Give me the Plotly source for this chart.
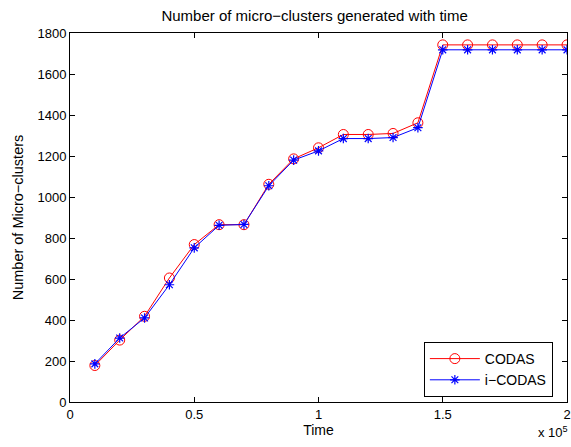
import plotly.graph_objects as go

time = [1e4, 2e4, 3e4, 4e4, 5e4, 6e4, 7e4, 8e4, 9e4, 1e5, 1.1e5, 1.2e5, 1.3e5, 1.4e5,
        1.5e5, 1.6e5, 1.7e5, 1.8e5, 1.9e5, 2e5]
codas = [178, 302, 418, 605, 768, 865, 865, 1062, 1186, 1240, 1305, 1305, 1310, 1362,
         1742, 1742, 1742, 1742, 1742, 1742]
icodas = [186, 312, 410, 572, 752, 862, 866, 1055, 1180, 1225, 1285, 1285, 1290, 1338,
          1718, 1718, 1718, 1718, 1718, 1718]

x_ticks = [0, 0.5, 1, 1.5, 2]
x_tick_labels = ["0", "0.5", "1", "1.5", "2"]
y_ticks = [0, 200, 400, 600, 800, 1000, 1200, 1400, 1600, 1800]

xs = [t / 1e5 for t in time]

fig = go.Figure()
fig.add_trace(go.Scatter(
    x=xs, y=codas, name="CODAS", mode="lines+markers",
    line=dict(color="#ff0000", width=1),
    marker=dict(symbol="circle-open", size=10, color="#ff0000", line=dict(width=1)),
))
fig.add_trace(go.Scatter(
    x=xs, y=icodas, name="i\u2212CODAS", mode="lines+markers",
    line=dict(color="#0000ff", width=1),
    marker=dict(symbol="asterisk-open", size=8, color="#0000ff", line=dict(width=1.2, color="#0000ff")),
))

axis_common = dict(
    showgrid=False, zeroline=False, showline=True, linecolor="black", linewidth=1,
    mirror="ticks", ticks="inside", ticklen=5, tickcolor="black", automargin=False,
    tickfont=dict(size=13, color="black"),
)

fig.update_layout(
    width=571, height=447,
    margin=dict(l=70, r=4, t=33, b=45),
    paper_bgcolor="white", plot_bgcolor="white",
    font=dict(family="Liberation Sans, Arial, sans-serif", color="black", size=13),
    title=dict(text="Number of micro\u2212clusters generated with time", x=0.551, xanchor="center",
               y=0.964, yanchor="middle", font=dict(size=15)),
    xaxis=dict(range=[0, 2], tickvals=x_ticks, ticktext=x_tick_labels, ticklabeloverflow="allow",
               title=dict(text="Time", standoff=4, font=dict(size=14)), **axis_common),
    yaxis=dict(range=[0, 1800], tickvals=y_ticks,
               title=dict(text="Number of Micro\u2212clusters", standoff=10, font=dict(size=14.5)), **axis_common),
    legend=dict(x=0.712, y=0.1626, xanchor="left", yanchor="top",
                bordercolor="black", borderwidth=1, bgcolor="white",
                font=dict(size=14), tracegroupgap=0, itemwidth=50),
    showlegend=True,
)
fig.add_annotation(text="x 10<sup>5</sup>", xref="paper", yref="paper", x=1.006, y=-0.108,
                   xanchor="right", yanchor="bottom", showarrow=False, font=dict(size=13))

fig.write_html("out.html", config={"displayModeBar": False},
               post_script="document.body.style.margin='0';document.body.style.overflow='hidden';")
